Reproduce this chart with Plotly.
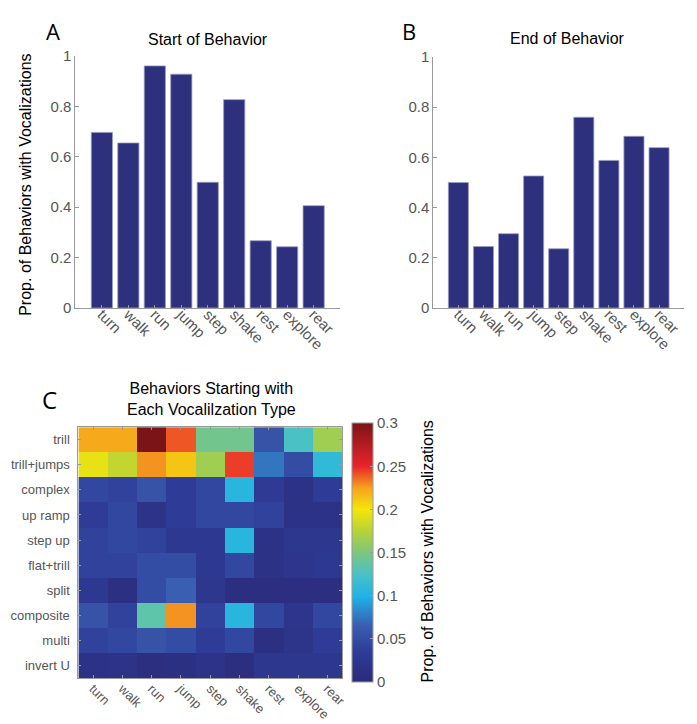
import plotly.graph_objects as go

behaviors = ["turn", "walk", "run", "jump", "step", "shake", "rest", "explore", "rear"]
start_vals = [0.697, 0.655, 0.961, 0.928, 0.499, 0.827, 0.267, 0.243, 0.406]
end_vals = [0.500, 0.245, 0.296, 0.526, 0.236, 0.760, 0.588, 0.684, 0.639]

voc_types = ["trill", "trill+jumps", "complex", "up ramp", "step up",
             "flat+trill", "split", "composite", "multi", "invert U"]
heat_vals = [
    [0.222, 0.222, 0.300, 0.240, 0.145, 0.145, 0.055, 0.125, 0.165],
    [0.195, 0.180, 0.228, 0.212, 0.165, 0.245, 0.075, 0.050, 0.110],
    [0.045, 0.040, 0.055, 0.035, 0.045, 0.105, 0.030, 0.015, 0.035],
    [0.035, 0.045, 0.018, 0.035, 0.045, 0.045, 0.040, 0.015, 0.015],
    [0.040, 0.045, 0.040, 0.028, 0.028, 0.105, 0.015, 0.025, 0.025],
    [0.040, 0.040, 0.050, 0.050, 0.028, 0.045, 0.015, 0.022, 0.028],
    [0.028, 0.012, 0.050, 0.065, 0.025, 0.010, 0.010, 0.010, 0.010],
    [0.055, 0.040, 0.135, 0.228, 0.040, 0.105, 0.045, 0.022, 0.045],
    [0.040, 0.045, 0.055, 0.050, 0.035, 0.045, 0.012, 0.020, 0.035],
    [0.015, 0.018, 0.008, 0.012, 0.018, 0.008, 0.025, 0.025, 0.025],
]
cbar_ticks = [0, 0.05, 0.1, 0.15, 0.2, 0.25, 0.3]
bar_ticks = [0, 0.2, 0.4, 0.6, 0.8, 1]

W, H = 697, 724
def px_x(a, b):
    return [a / W, b / W]
def px_y(top, bottom):
    return [1 - bottom / H, 1 - top / H]

BAR = "#2d307d"
TICK = "#555555"
AXL = "#9a9a9a"
FONT = "Arial, Liberation Sans, sans-serif"

colorscale = [
    [0.0, "#2b2a78"],
    [0.12, "#2e3d98"],
    [0.22, "#3a5fb2"],
    [0.33, "#1fb2e6"],
    [0.42, "#4cc2c4"],
    [0.5, "#7cc67e"],
    [0.58, "#b4d23a"],
    [0.667, "#f5e50a"],
    [0.75, "#f6a21d"],
    [0.833, "#e8242a"],
    [0.91, "#b81d22"],
    [1.0, "#7a1416"],
]

fig = go.Figure()
fig.add_trace(go.Bar(x=behaviors, y=start_vals, marker=dict(color=BAR, line=dict(color="#9a9cc0", width=0.8)),
                     xaxis="x", yaxis="y", showlegend=False))
fig.add_trace(go.Bar(x=behaviors, y=end_vals, marker=dict(color=BAR, line=dict(color="#9a9cc0", width=0.8)),
                     xaxis="x2", yaxis="y2", showlegend=False))
fig.add_trace(go.Heatmap(z=heat_vals, x=behaviors, y=voc_types, xaxis="x3", yaxis="y3",
                         colorscale=colorscale, zmin=0, zmax=0.3,
                         colorbar=dict(x=347 / W, xanchor="left", y=1 - 548.5 / H, yanchor="middle",
                                       len=259, lenmode="pixels", thickness=21, thicknessmode="pixels",
                                       outlinewidth=1, outlinecolor=AXL, tickvals=cbar_ticks,
                                       ticktext=[f"{t:g}" for t in cbar_ticks],
                                       ticks="inside", ticklen=3, tickcolor=AXL,
                                       tickfont=dict(size=15, color=TICK, family=FONT), xpad=0, ypad=0)))

bar_x = dict(type="category", range=[-1, 9], showline=True, linecolor=AXL, linewidth=1,
             ticks="inside", ticklen=3, tickcolor=AXL, tickangle=45, ticklabelstandoff=-9,
             tickfont=dict(size=15, color=TICK, family=FONT), showgrid=False, zeroline=False)
bar_y = dict(range=[0, 1], tickvals=bar_ticks, ticktext=[f"{t:g}" for t in bar_ticks],
             showline=True, linecolor=AXL, linewidth=1, ticks="inside", ticklen=4, tickcolor=AXL,
             tickfont=dict(size=15, color=TICK, family=FONT), showgrid=False, zeroline=False)

fig.update_layout(
    width=W, height=H, margin=dict(l=0, r=0, t=0, b=0),
    paper_bgcolor="white", plot_bgcolor="white",
    bargap=0.2,
    xaxis=dict(bar_x, domain=px_x(68, 335), anchor="y"),
    yaxis=dict(bar_y, domain=px_y(40, 298), anchor="x"),
    xaxis2=dict(bar_x, domain=px_x(429, 682), anchor="y2"),
    yaxis2=dict(bar_y, domain=px_y(41, 298), anchor="x2"),
    xaxis3=dict(domain=px_x(71, 337), anchor="y3", showline=True, mirror="ticks", linecolor=AXL,
                ticks="inside", ticklen=3, tickcolor=AXL, tickangle=45, ticklabelstandoff=-3,
                tickfont=dict(size=13, color=TICK, family=FONT), showgrid=False, zeroline=False),
    yaxis3=dict(domain=px_y(420, 677), anchor="x3", autorange="reversed", showline=True, mirror="ticks",
                linecolor=AXL, ticks="inside", ticklen=3, tickcolor=AXL, ticklabelstandoff=5,
                tickfont=dict(size=13, color=TICK, family=FONT), showgrid=False, zeroline=False),
)

annots = [
    dict(text="A", x=45, y=14, size=22, family="Open Sans, DejaVu Sans, sans-serif", color="black"),
    dict(text="B", x=404, y=14, size=22, family="Open Sans, DejaVu Sans, sans-serif", color="black"),
    dict(text="C", x=42, y=392, size=24, family="Open Sans, DejaVu Sans, sans-serif", color="black"),
    dict(text="Start of Behavior", x=202, y=23, size=16, family=FONT, color="black"),
    dict(text="End of Behavior", x=564, y=22, size=16, family=FONT, color="black"),
    dict(text="Behaviors Starting with<br>Each Vocalilzation Type", x=205, y=391, size=16, family=FONT, color="black"),
]
for a in annots:
    fig.add_annotation(text=a["text"], x=a["x"] / W, y=1 - a["y"] / H, xref="paper", yref="paper",
                       showarrow=False, xanchor="center", yanchor="middle",
                       font=dict(size=a["size"], family=a["family"], color=a["color"]))
fig.add_annotation(text="Prop. of Behaviors with Vocalizations", x=18 / W, y=1 - 172 / H, xref="paper", yref="paper",
                   showarrow=False, textangle=-90, xanchor="center", yanchor="middle",
                   font=dict(size=16, family=FONT, color="black"))
fig.add_annotation(text="Prop. of Behaviors with Vocalizations", x=423 / W, y=1 - 547 / H, xref="paper", yref="paper",
                   showarrow=False, textangle=-90, xanchor="center", yanchor="middle",
                   font=dict(size=16, family=FONT, color="black"))

fig.write_html("out.html")
